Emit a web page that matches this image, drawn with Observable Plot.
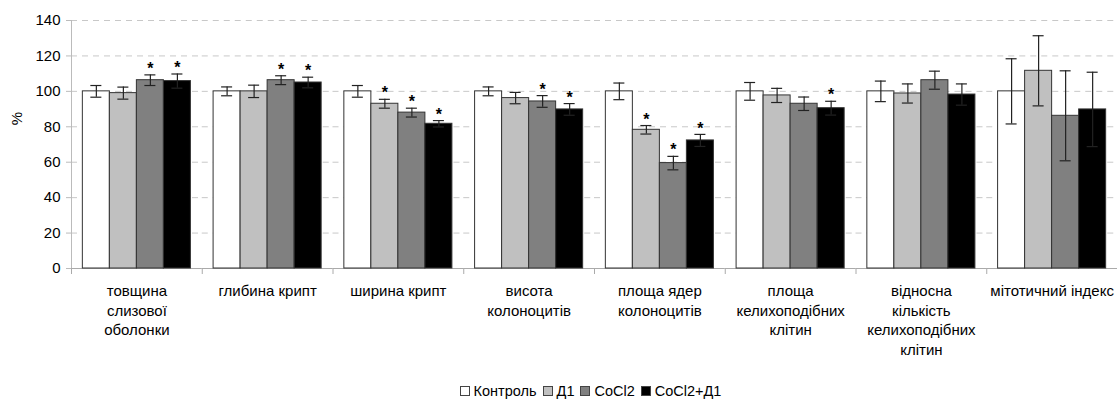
<!DOCTYPE html>
<html><head><meta charset="utf-8">
<script src="https://cdn.jsdelivr.net/npm/d3@7"></script>
<script src="https://cdn.jsdelivr.net/npm/@observablehq/plot@0.6"></script>
<style>
body{margin:0;background:#fff;font-family:"Liberation Sans",Arial,sans-serif;}
#wrap{position:relative;width:1117px;}
#ylab{position:absolute;left:10px;top:110px;font-size:15px;transform:rotate(-90deg);transform-origin:center;}
#legend{display:flex;justify-content:center;align-items:center;padding-left:64px;font-size:14.5px;height:21px;gap:6px;}
#legend span.it{display:inline-flex;align-items:center;gap:4px;}
#legend i{display:inline-block;width:8px;height:8px;border:1px solid #444;}
</style></head><body>
<div id="wrap"><div id="chart"></div><div id="ylab">%</div></div>
<div id="legend"></div>
<script>
const categories = ["товщина\nслизової\nоболонки","глибина крипт","ширина крипт","висота\nколоноцитів","площа ядер\nколоноцитів","площа\nкелихоподібних\nклітин","відносна\nкількість\nкелихоподібних\nклітин","мітотичний індекс"];
const groups = ["Контроль","Д1","CoCl2","CoCl2+Д1"];
const colors = ["#ffffff","#c0c0c0","#808080","#000000"];
const control = [100,100,100,100,100,100,100,100];
const d1 = [99,100,93,96.2,78.3,97.7,98.8,111.6];
const cocl2 = [106.3,106.3,88,94.3,59.5,93,106.3,86.2];
const cocl2d1 = [105.8,105,81.7,89.8,72.3,90.5,98.2,89.8];
const errControl = [3.3,2.5,3.3,2.5,4.7,5,5.8,18.4];
const errD1 = [3.4,3.5,2.5,3.2,2.4,4,5.4,19.8];
const errCocl2 = [3,2.5,2.5,3.3,3.8,3.8,5.1,25.4];
const errCocl2d1 = [4,3,1.8,3.3,3.4,3.9,6,21];
const sigControl = [0,0,0,0,0,0,0,0];
const sigD1 = [0,0,1,0,1,0,0,0];
const sigCocl2 = [1,1,1,1,1,0,0,0];
const sigCocl2d1 = [1,1,1,1,1,1,0,0];
const yTicks = [0,20,40,60,80,100,120,140];

const vals = [control,d1,cocl2,cocl2d1];
const errs = [errControl,errD1,errCocl2,errCocl2d1];
const sigs = [sigControl,sigD1,sigCocl2,sigCocl2d1];
const data = [];
categories.forEach((c,i)=>groups.forEach((g,j)=>data.push({cat:c,grp:g,v:vals[j][i],e:errs[j][i],s:sigs[j][i]})));

const chart = Plot.plot({
  width:1117, height:380, marginLeft:71, marginRight:0, marginTop:20, marginBottom:112,
  style:{fontFamily:"'Liberation Sans', Arial, sans-serif", fontSize:"15px", color:"#000", background:"#fff"},
  fx:{domain:categories, padding:0, round:false, label:null, axis:null},
  x:{domain:groups, paddingInner:0, paddingOuter:0.42, round:false, axis:null},
  y:{domain:[0,140], label:null, axis:null},
  color:{domain:groups, range:colors},
  marks:[
    Plot.gridY(yTicks.filter(t=>t>0), {stroke:"#c8c8c8", strokeOpacity:1, strokeDasharray:"6,5"}),
    Plot.axisY(yTicks, {tickSize:5, tickPadding:6, stroke:"#bbb", label:null, fontSize:15}),
    Plot.frame({anchor:"left", facetAnchor:"left", stroke:"#bbb"}),
    Plot.frame({anchor:"left", stroke:"#aaa", insetTop:248, insetBottom:-5}),
    Plot.ruleY([0], {stroke:"#aaa"}),
    Plot.axisFx({anchor:"bottom", tickSize:0, tickPadding:14, lineHeight:1.3, fontSize:15, label:null}),
    Plot.barY(data, {fx:"cat", x:"grp", y:"v", fill:"grp", stroke:"#333", strokeWidth:1, inset:0}),
    Plot.ruleX(data, {fx:"cat", x:"grp", y1:d=>d.v-d.e, y2:d=>d.v+d.e, stroke:"#222", strokeWidth:1.2}),
    Plot.tickY(data, {fx:"cat", x:"grp", y:d=>d.v+d.e, insetLeft:8, insetRight:8, stroke:"#222", strokeWidth:1.2}),
    Plot.tickY(data, {fx:"cat", x:"grp", y:d=>d.v-d.e, insetLeft:8, insetRight:8, stroke:"#222", strokeWidth:1.2}),
    Plot.text(data.filter(d=>d.s), {fx:"cat", x:"grp", y:d=>d.v+d.e, text:()=>"*", dy:-6, fontSize:16, fontWeight:"bold"})
  ]
});
document.getElementById("chart").appendChild(chart);

const leg = document.getElementById("legend");
groups.forEach((g,j)=>{
  const s = document.createElement("span"); s.className="it";
  const b = document.createElement("i"); b.style.background = colors[j];
  s.appendChild(b); s.appendChild(document.createTextNode(g));
  leg.appendChild(s);
});
</script>
</body></html>
